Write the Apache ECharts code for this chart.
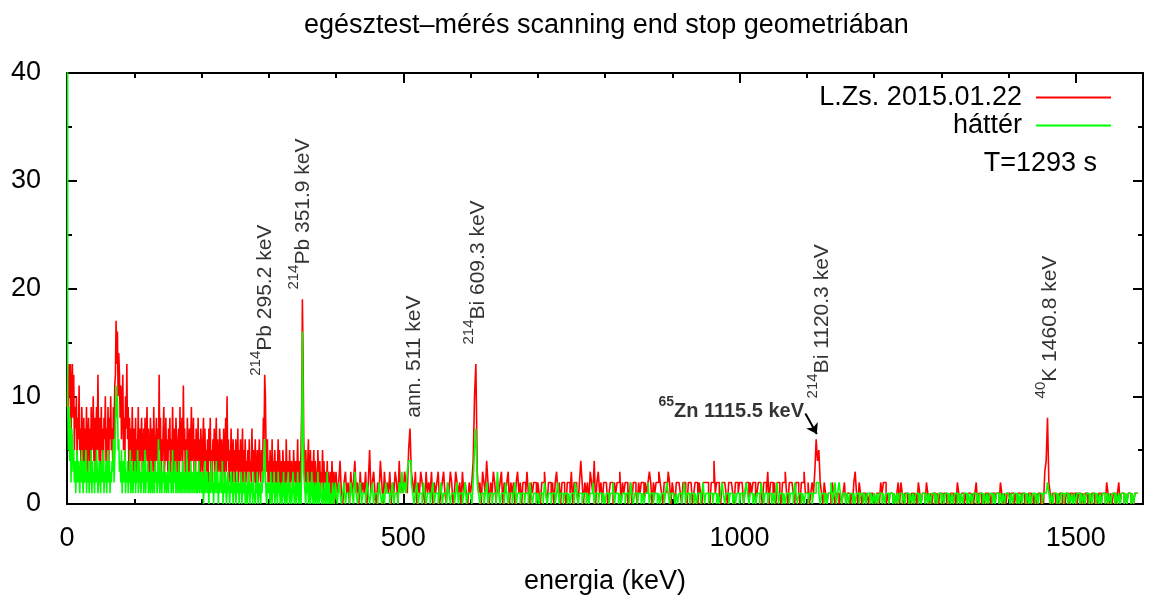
<!DOCTYPE html>
<html>
<head>
<meta charset="utf-8">
<script src="https://cdn.jsdelivr.net/npm/echarts@6/dist/echarts.min.js"></script>
<style>
  html, body { margin: 0; padding: 0; background: #fff; }
  #main { width: 1152px; height: 597px; }
</style>
</head>
<body>
<div id="main"></div>
<script>
// channels: 1 keV wide from 0 to 400 keV, 2 keV wide from 400 keV on
var lowStart = 0, lowWidth = 1;
var highStart = 400, highWidth = 2;

// L.Zs. 2015.01.22, 0-400 keV
var meresLow = [
  9,12,8,13,10,13,6,11,13,8, 12,5,9,7,10,4,8,6,11,5, 7,3,9,6,4,8,2,7,5,9, 3,6,8,4,7,2,9,5,6,10, 4,8,3,7,9,5,12,6,4,8,
  3,9,5,7,2,8,6,10,4,7, 5,9,3,8,6,10,5,7,4,9, 6,11,12,17,13,16,10,14,12,8, 11,6,9,12,5,8,4,10,7,13, 6,9,3,8,5,7,4,9,6,3,
  7,4,8,2,6,5,9,3,7,4, 6,8,3,5,7,2,8,4,6,9, 3,7,5,2,8,6,4,7,3,9, 5,2,6,8,4,7,3,12,5,8, 2,6,4,7,9,3,5,8,4,6,
  3,7,5,8,2,6,4,9,5,3, 7,4,8,6,2,5,7,3,9,4, 6,8,3,11,5,7,2,6,4,8, 5,3,7,2,6,9,4,5,8,3, 6,2,7,5,4,8,3,6,2,7,
  5,3,6,8,2,7,4,5,3,6, 2,7,4,8,3,5,2,6,4,7, 3,5,8,2,6,4,3,7,5,2, 6,4,3,7,2,5,8,3,10,4, 6,2,5,3,7,4,2,6,3,5,
  2,6,4,3,7,2,5,3,6,1, 4,7,2,5,3,6,2,4,3,5, 1,6,3,4,2,7,3,5,2,4, 6,1,3,5,2,4,6,3,2,5, 3,4,8,6,12,10,5,3,6,2,
  4,2,5,3,1,6,2,4,3,5, 2,4,1,3,6,2,5,3,1,4, 2,5,3,2,4,1,6,3,2,4, 1,5,2,3,4,2,1,5,3,2, 4,1,3,6,2,4,1,3,5,9,
  19,14,6,4,2,5,3,1,4,6, 2,3,5,1,4,2,3,5,1,4, 3,2,1,5,3,2,4,1,3,2, 5,1,4,2,3,1,2,4,1,3, 2,0,3,1,4,2,1,3,0,2
];
// L.Zs. 2015.01.22, 400-1592 keV
var meresHigh = [
  3,1,2,4,1,0,2,3,1,2, 0,3,1,2,4,1,2,0,3,1, 2,1,3,0,2,5,1,2,3,1, 0,2,1,4,2,0,3,1,2,1, 3,0,2,1,3,2,0,4,1,2,
  1,3,2,1,5,7,3,2,1,3, 0,2,1,3,2,1,0,3,1,2, 1,3,0,2,1,2,3,0,1,2, 3,1,0,2,1,3,2,0,1,3, 2,1,2,0,3,1,2,1,0,2,
  1,2,4,10,13,3,1,2,0,3, 2,1,4,2,0,2,1,3,2,0, 2,1,2,3,0,2,1,2,3,0, 2,1,2,0,2,3,1,2,0,2, 2,1,3,1,0,2,1,2,2,0,
  2,1,0,2,2,3,1,0,2,2, 1,2,0,2,3,1,2,0,2,2, 1,0,2,2,1,3,0,2,2,1, 0,2,4,2,0,2,1,2,0,3, 2,1,4,0,2,3,1,2,0,2,
  2,2,0,1,2,2,0,2,1,2, 2,3,0,2,1,2,2,0,1,2, 0,2,2,1,0,2,1,2,2,0, 2,1,2,3,2,0,2,1,2,2, 3,2,1,0,2,2,1,3,2,0,
  2,1,0,2,2,2,1,0,2,2, 1,0,2,2,2,0,1,2,2,0, 2,1,0,2,2,2,2,1,0,2, 2,4,1,2,2,1,0,2,2,2, 1,0,2,2,2,1,0,2,2,1,
  2,2,2,0,1,2,2,0,2,1, 2,2,0,1,2,2,1,0,2,2, 1,3,0,2,2,1,2,0,2,2, 1,0,2,2,3,1,0,2,2,2, 1,0,2,2,1,0,2,2,3,1,
  1,2,0,1,2,1,3,6,4,5, 2,1,0,2,1,0,1,1,0,2, 1,0,1,1,0,1,0,1,2,0, 1,1,0,1,0,2,3,1,0,2, 1,0,1,1,0,1,0,1,1,0,
  1,0,1,1,0,2,1,2,2,0, 1,0,1,1,0,1,0,1,2,0, 2,1,0,1,1,0,1,0,1,1, 0,1,0,2,1,0,1,1,0,2, 1,0,1,0,1,1,0,1,0,1,
  1,0,1,1,0,1,0,1,1,0, 1,0,2,1,0,1,1,0,1,0, 1,1,0,1,0,1,2,0,1,1, 0,1,0,1,1,0,1,0,1,1, 0,1,1,0,2,1,0,1,0,1,
  1,0,1,1,0,1,0,1,1,0, 1,1,0,1,0,1,1,0,1,0, 1,0,1,1,0,1,0,3,4,8, 2,1,0,1,1,0,1,0,1,1, 0,1,0,1,1,0,1,1,0,1,
  1,0,1,1,0,1,0,1,1,0, 1,0,1,1,0,1,0,1,1,0, 1,1,0,2,1,0,1,0,1,1, 0,1,2,0,1,1,0,1,0,1, 1,0,1,0,1,1
];

// háttér, 0-400 keV (channel 0 is far off scale)
var hatterLow = [
  400,10,5,9,4,8,2,7,6,3, 5,2,4,1,3,5,2,4,3,1, 4,2,5,3,1,4,2,3,5,1, 3,2,4,1,3,2,5,1,4,2, 3,1,4,2,5,3,1,2,4,3,
  1,4,2,3,5,1,3,2,4,1, 3,5,2,4,1,3,2,4,3,6, 2,4,7,11,8,10,5,6,3,4, 2,5,1,3,4,2,5,1,3,2, 4,1,3,2,5,1,2,4,1,3,
  2,4,1,3,2,5,1,3,4,2, 1,3,2,4,1,2,5,1,3,2, 4,1,2,3,1,4,2,1,3,2, 1,4,2,3,1,2,6,3,1,4, 2,1,3,2,4,1,3,2,1,3,
  2,1,4,2,3,1,2,5,1,3, 2,4,1,2,3,1,4,2,1,3, 2,1,4,3,1,2,3,1,5,2, 1,3,2,1,4,2,1,3,2,1, 4,2,1,3,1,2,4,1,2,3,
  1,3,2,0,2,4,1,2,3,1, 2,0,3,1,2,4,1,2,0,3, 1,2,4,1,3,0,2,1,3,2, 1,4,0,2,1,3,2,0,1,3, 2,1,0,2,3,1,2,0,3,1,
  2,0,1,3,1,2,0,2,1,3, 0,1,2,1,3,0,2,1,0,2, 3,1,0,2,1,2,0,3,1,1, 0,2,1,3,0,1,2,1,0,2, 1,3,2,4,6,3,1,0,2,1,
  1,2,0,3,1,0,2,1,3,0, 1,2,1,0,3,1,2,0,1,2, 0,1,3,1,0,2,1,0,2,3, 1,0,2,1,0,1,3,2,0,1, 2,0,1,3,1,0,2,1,0,4,
  16,9,3,2,1,0,2,1,3,0, 1,2,0,1,3,1,0,2,1,0, 2,1,0,3,1,0,2,1,1,0, 2,1,0,1,2,0,1,3,0,1, 2,0,1,1,0,2,1,0,1,2
];
// háttér, 400-1592 keV
var hatterHigh = [
  1,0,2,1,0,1,2,0,1,1, 0,2,1,0,3,1,0,1,2,0, 1,1,0,2,1,0,1,2,0,1, 1,0,2,1,0,1,0,2,1,1, 0,1,2,0,1,1,0,2,1,3,
  1,2,1,3,4,4,2,1,0,1, 2,0,1,1,0,2,1,0,1,1, 0,1,2,0,1,1,0,1,2,0, 1,1,0,2,1,0,1,1,0,1, 2,0,1,1,0,1,2,0,1,1,
  1,0,2,5,7,2,1,0,1,1, 0,1,2,0,1,1,0,1,1,0, 3,1,0,1,1,0,2,1,0,1, 1,0,1,2,0,1,1,0,1,1, 0,1,1,0,2,1,0,1,1,0,
  1,0,1,1,0,2,1,0,1,1, 0,1,1,0,1,2,0,1,1,0, 1,1,0,1,0,1,1,0,2,1, 0,1,1,0,1,1,0,1,0,1, 1,2,0,1,1,0,1,1,0,1,
  0,1,1,0,1,1,2,0,1,1, 0,1,0,1,1,0,1,1,0,2, 1,0,1,1,0,1,1,0,1,0, 1,1,2,0,1,1,0,1,1,0, 1,0,1,1,0,1,2,1,0,1,
  1,1,0,1,0,1,1,0,1,2, 0,1,1,0,1,1,0,1,0,1, 1,0,1,2,0,1,1,0,1,1, 0,1,1,0,1,0,1,2,1,0, 1,1,0,1,1,0,1,0,1,1,
  0,1,1,0,1,2,1,0,1,1, 0,1,0,1,1,0,2,1,0,1, 1,0,1,1,0,1,0,1,2,0, 1,1,0,1,0,1,1,0,1,1, 0,2,1,0,1,1,0,1,0,1,
  1,0,1,1,0,1,1,2,2,1, 0,1,1,0,1,0,1,1,2,0, 1,2,0,1,2,1,0,1,1,0, 1,0,1,1,0,1,0,1,1,0, 1,1,0,1,0,1,1,0,1,0,
  1,0,1,0,1,1,0,1,0,1, 1,0,1,1,0,1,0,1,0,1, 1,0,1,0,1,1,0,1,0,1, 0,1,1,0,1,0,1,1,0,1, 0,1,0,1,1,0,1,0,1,1,
  0,1,0,1,1,0,1,0,1,0, 1,1,0,1,0,1,0,1,1,0, 1,0,1,0,1,1,0,1,0,1, 1,0,1,0,1,0,1,1,0,1, 0,1,1,0,1,0,1,0,1,1,
  1,0,1,0,1,1,0,1,0,1, 0,1,1,0,1,0,1,0,1,1, 0,1,0,1,1,0,1,1,1,2, 1,0,1,0,1,1,0,1,0,1, 1,0,1,1,0,1,0,1,0,1,
  0,1,1,0,1,0,1,0,1,1, 0,1,0,1,1,0,1,0,1,0, 1,1,0,1,0,1,0,1,1,0, 1,0,1,0,1,1,0,1,0,1, 1,0,1,0,1,1
];

// peak labels (energy, counts where the text starts)
var peakE = [290, 347, 512, 607, 1118, 1457];
var peakC = [11.9, 19.9, 8.0, 14.8, 9.8, 9.8];
var peakIso = ['214', '214', '', '214', '214', '40'];
var peakName = ['Pb 295.2 keV', 'Pb 351.9 keV', 'ann. 511 keV', 'Bi 609.3 keV', 'Bi 1120.3 keV', 'K 1460.8 keV'];

// Zn label and its arrow
var znPos = [1096, 8.9];
var znArrow = [[1098, 8.4], [1115, 6.5]];

var font = 'Liberation Sans';

function steps(low, high) {
    var out = low.map(function (v, i) { return [lowStart + i * lowWidth, v]; });
    high.forEach(function (v, i) { out.push([highStart + i * highWidth, v]); });
    out.push([highStart + high.length * highWidth, high[high.length - 1]]);
    return out;
}

var peakData = peakE.map(function (e, i) {
    return { value: [e, peakC[i]], iso: peakIso[i], name: peakName[i] };
});

var myChart = echarts.init(document.getElementById('main'));

function axisParts(split) {
    return {
        axisLine: { show: true, onZero: false, lineStyle: { color: '#000', width: 2 } },
        axisTick: { show: true, inside: true, length: 10, lineStyle: { color: '#000', width: 2 } },
        minorTick: { show: true, splitNumber: split, length: 5, lineStyle: { color: '#000', width: 2 } },
        splitLine: { show: false },
        minorSplitLine: { show: false }
    };
}

var option = {
    animation: false,
    title: [{
        text: 'egésztest–mérés scanning end stop geometriában',
        left: 299,
        top: 7,
        textStyle: { fontFamily: font, fontSize: 27, fontWeight: 'normal', color: '#000' }
    }, {
        text: 'T=1293 s',
        right: 50,
        top: 145,
        textStyle: { fontFamily: font, fontSize: 27, fontWeight: 'normal', color: '#000' }
    }],
    legend: {
        data: ['L.Zs. 2015.01.22', 'háttér'],
        orient: 'vertical',
        right: 36,
        top: 79,
        align: 'right',
        icon: 'rect',
        itemWidth: 75,
        itemHeight: 2,
        itemGap: 1,
        textStyle: { fontFamily: font, fontSize: 27, color: '#000', width: 210, align: 'right', padding: [0, 9, 0, 0] }
    },
    grid: { left: 67, right: 9, top: 73, bottom: 93, outerBoundsMode: 'none' },
    xAxis: [
        Object.assign({
            type: 'value', min: 0, max: 1600, interval: 500,
            name: 'energia (keV)', nameLocation: 'middle', nameGap: 64,
            nameTextStyle: { fontFamily: font, fontSize: 27, color: '#000' },
            axisLabel: {
                fontFamily: font, fontSize: 27, color: '#000', margin: 21,
                showMaxLabel: false,
                formatter: function (v) { return String(v); }
            }
        }, axisParts(5)),
        Object.assign({
            type: 'value', min: 0, max: 1600, interval: 500, position: 'top',
            axisLabel: { show: false }
        }, axisParts(5))
    ],
    yAxis: [
        Object.assign({
            type: 'value', min: 0, max: 40, interval: 10,
            axisLabel: { fontFamily: font, fontSize: 27, color: '#000', margin: 26 }
        }, axisParts(2)),
        Object.assign({
            type: 'value', min: 0, max: 40, interval: 10, position: 'right',
            axisLabel: { show: false }
        }, axisParts(2))
    ],
    series: [{
        name: 'L.Zs. 2015.01.22',
        type: 'line',
        step: 'end',
        showSymbol: false,
        sampling: 'none',
        color: '#ff0000',
        lineStyle: { width: 1.6, color: '#ff0000' },
        data: steps(meresLow, meresHigh),
        z: 2
    }, {
        name: 'háttér',
        type: 'line',
        step: 'end',
        showSymbol: false,
        sampling: 'none',
        color: '#00ff00',
        lineStyle: { width: 1.6, color: '#00ff00' },
        data: steps(hatterLow, hatterHigh),
        z: 3
    }, {
        name: 'peaks',
        type: 'scatter',
        symbolSize: 0,
        silent: true,
        data: peakData,
        z: 5,
        label: {
            show: true,
            position: 'top',
            distance: 0,
            rotate: 90,
            align: 'left',
            verticalAlign: 'middle',
            formatter: function (p) {
                return (p.data.iso ? '{s|' + p.data.iso + '}' : '') + '{t|' + p.data.name + '}';
            },
            rich: {
                s: { fontFamily: font, fontSize: 15, color: '#000', verticalAlign: 'top', lineHeight: 27 },
                t: { fontFamily: font, fontSize: 21, color: '#000', verticalAlign: 'bottom', lineHeight: 27 }
            }
        }
    }, {
        name: 'zn',
        type: 'scatter',
        symbolSize: 0,
        silent: true,
        data: [znPos],
        z: 5,
        label: {
            show: true,
            position: 'left',
            distance: 0,
            align: 'right',
            verticalAlign: 'middle',
            formatter: '{s|65}{t|Zn 1115.5 keV}',
            rich: {
                s: { fontFamily: font, fontSize: 14, fontWeight: 'bold', color: '#000', verticalAlign: 'top', lineHeight: 26 },
                t: { fontFamily: font, fontSize: 20, fontWeight: 'bold', color: '#000', verticalAlign: 'bottom', lineHeight: 26 }
            }
        },
        markLine: {
            silent: true,
            symbol: ['none', 'arrow'],
            symbolSize: 10,
            label: { show: false },
            lineStyle: { color: '#000', width: 2, type: 'solid' },
            data: [[{ coord: znArrow[0] }, { coord: znArrow[1] }]]
        }
    }]
};

myChart.setOption(option);
</script>
</body>
</html>
